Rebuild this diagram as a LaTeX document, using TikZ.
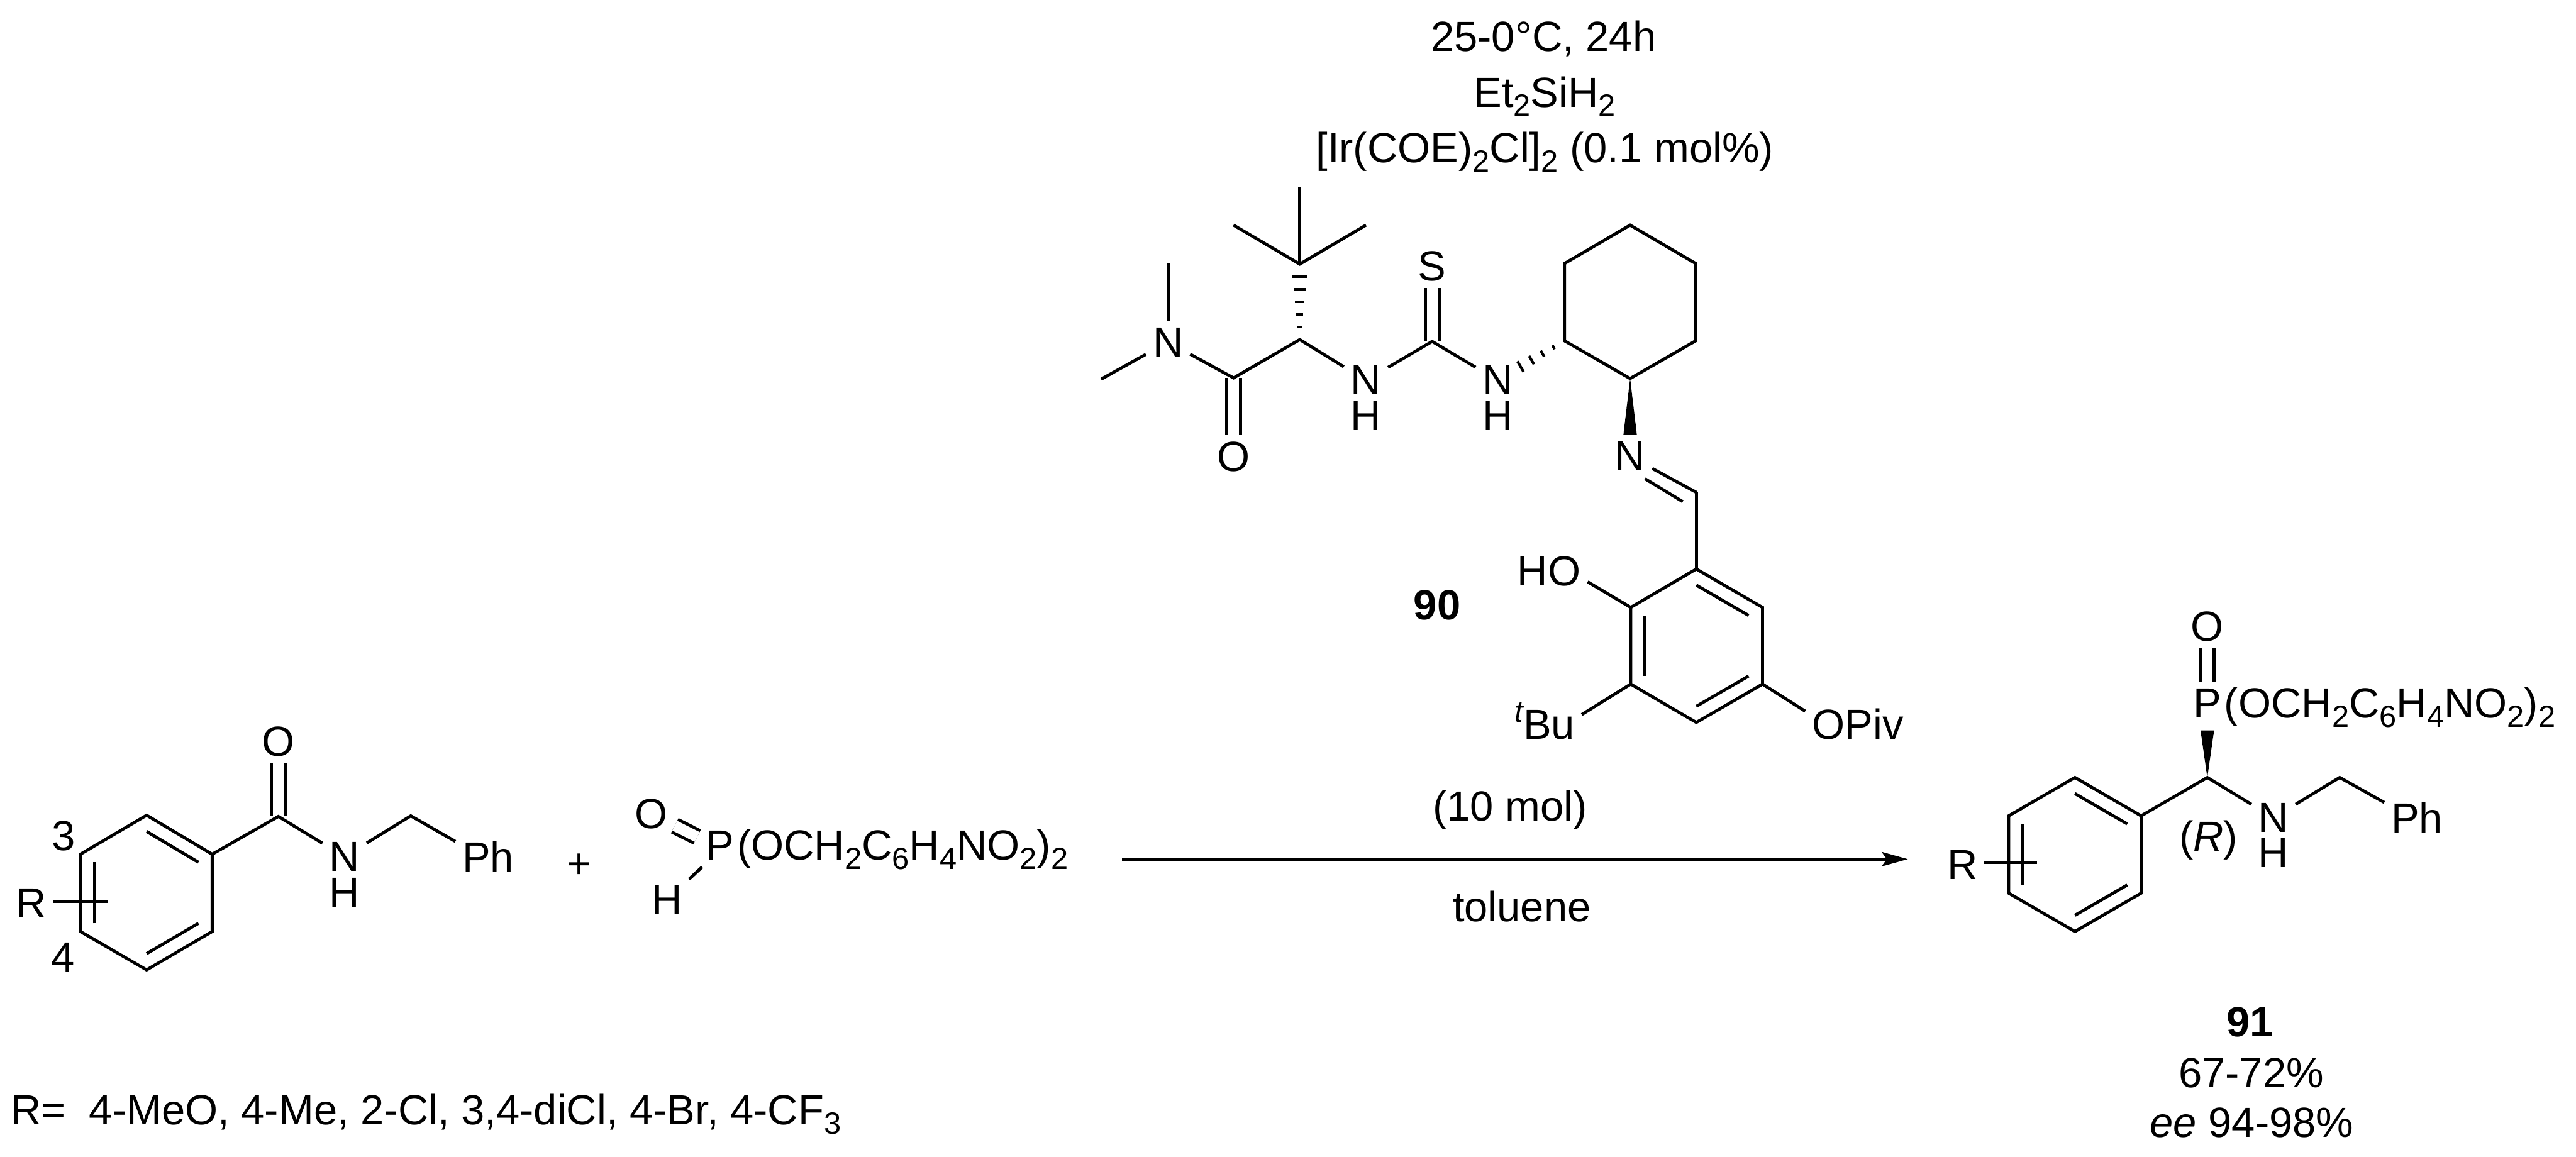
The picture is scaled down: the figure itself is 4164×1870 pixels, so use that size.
\documentclass[tikz,border=0pt]{standalone}
\usepackage{fontspec}
\setmainfont{Liberation Sans}
\usetikzlibrary{arrows.meta, calc}
\newcommand{\chs}[1]{\raisebox{-.15cm}{\fontsize{14.1}{14}\selectfont #1}}
\newcommand{\ringbond}[3]{\draw ($(#1)!.21!(#3)$) -- ($(#2)!.21!(#3)$);}
\newcommand{\wedgebond}[2]{\fill (#1) -- ($(#2)!3.1pt!90:(#1)$) -- ($(#2)!3.1pt!-90:(#1)$) -- cycle;}
\newcommand{\hashline}[4]{\draw[line width=1.2pt] ($(#1)!#3!(#2)!#4pt!90:(#2)$) -- ($(#1)!#3!(#2)!#4pt!-90:(#2)$);}

\begin{document}
\begin{tikzpicture}[x=0.01cm, y=-0.01cm, line width=1.4pt,
    every node/.style={font=\fontsize{19.36}{23}\selectfont},
    atom/.style={inner sep=2.5pt},
    txt/.style={inner sep=0pt, anchor=base},
    dbl/.style={double, double distance=5pt}]
  \useasboundingbox (0,0) rectangle (4164,1870);

  % conditions
  \node[txt] (condA) at (2495,83) {25-0°C, 24h};
  \node[txt] (condB) at (2497,173) {Et\chs{2}SiH\chs{2}};
  \node[txt] (condC) at (2497,263) {[Ir(COE)\chs{2}Cl]\chs{2} (0.1 mol\%)};

  % catalyst 90
  \coordinate (tbuT) at (2101,302);
  \coordinate (tbuL) at (1994,364);
  \coordinate (tbuR) at (2208,364);
  \coordinate (tbuC) at (2101,427);
  \coordinate (cStar) at (2101,549);
  \coordinate (cAmide) at (1994,611);
  \coordinate (cThio) at (2315,552);
  \coordinate (meA) at (1888,425);
  \coordinate (meB) at (1780,613);
  \node[atom] (oAmide) at (1994,738) {O};
  \node[atom] (nAmide) at (1888,553) {N};
  \node[atom] (nA) at (2208,615) {N};
  \node[atom] (hA) at (2208,672) {H};
  \node[atom] (sThio) at (2315,430) {S};
  \node[atom] (nB) at (2421,615) {N};
  \node[atom] (hB) at (2421,672) {H};
  \draw[dbl] (cAmide) -- (oAmide);
  \draw[dbl] (cThio) -- (sThio);
  \draw (tbuT) -- (tbuC);
  \draw (tbuL) -- (tbuC) -- (tbuR);
  \hashline{cStar}{tbuC}{.167}{1.05}
  \hashline{cStar}{tbuC}{.333}{1.6}
  \hashline{cStar}{tbuC}{.5}{2.15}
  \hashline{cStar}{tbuC}{.667}{2.7}
  \hashline{cStar}{tbuC}{.833}{3.25}
  \draw (meA) -- (nAmide);
  \draw (meB) -- (nAmide);
  \draw (nAmide) -- (cAmide) -- (cStar) -- (nA);
  \draw (nA) -- (cThio) -- (nB);

  \coordinate (cyA) at (2635,364);
  \coordinate (cyB) at (2741,426);
  \coordinate (cyC) at (2741,551);
  \coordinate (cyD) at (2635,612);
  \coordinate (cyE) at (2529,551);
  \coordinate (cyF) at (2529,426);
  \draw (cyA) -- (cyB) -- (cyC) -- (cyD) -- (cyE) -- (cyF) -- cycle;
  \coordinate (hashEnd) at (2440,603);
  \hashline{cyE}{hashEnd}{.2}{1}
  \hashline{cyE}{hashEnd}{.4}{1.6}
  \hashline{cyE}{hashEnd}{.6}{2.2}
  \hashline{cyE}{hashEnd}{.8}{2.8}
  \node[atom] (nImine) at (2635,738) {N};
  \wedgebond{cyD}{nImine.north}

  \coordinate (cImine) at (2742,796);
  \coordinate (inA) at (2659,774);
  \coordinate (inB) at (2720,811);
  \draw (nImine) -- (cImine);
  \draw (inA) -- (inB);
  \coordinate (arA) at (2742,920);
  \coordinate (arB) at (2849,982);
  \coordinate (arC) at (2849,1106);
  \coordinate (arD) at (2742,1168);
  \coordinate (arE) at (2636,1106);
  \coordinate (arF) at (2636,982);
  \coordinate (arM) at (2742,1044);
  \draw (cImine) -- (arA);
  \draw (arA) -- (arB) -- (arC) -- (arD) -- (arE) -- (arF) -- cycle;
  \ringbond{arA}{arB}{arM}
  \ringbond{arC}{arD}{arM}
  \ringbond{arE}{arF}{arM}
  \node[atom] (hoA) at (2504,924) {HO};
  \node[atom, anchor=base] (tbuA) at (2497,1195) {\raisebox{.27cm}{\fontsize{14.1}{14}\selectfont\itshape t}Bu};
  \node[atom] (opiv) at (3003,1171) {OPiv};
  \draw (arF) -- (hoA.-15);
  \draw (arE) -- (tbuA.10);
  \draw (arC) -- (opiv.166);
  \node[txt, font=\fontsize{19.36}{23}\selectfont\bfseries] (labelA) at (2323,1002) {90};

  % benzamide
  \coordinate (baA) at (237,1318);
  \coordinate (baB) at (343,1381);
  \coordinate (baC) at (343,1506);
  \coordinate (baD) at (237,1568);
  \coordinate (baE) at (130,1506);
  \coordinate (baF) at (130,1381);
  \coordinate (baM) at (237,1443);
  \draw (baA) -- (baB) -- (baC) -- (baD) -- (baE) -- (baF) -- cycle;
  \ringbond{baA}{baB}{baM}
  \ringbond{baC}{baD}{baM}
  \ringbond{baE}{baF}{baM}
  \node[atom] (rA) at (51,1460) {R};
  \coordinate (rAend) at (175,1457);
  \draw (rA.east |- rAend) -- (rAend);
  \node[atom] (numA) at (103,1352) {3};
  \node[atom] (numB) at (102,1548) {4};
  \coordinate (coA) at (450,1320);
  \coordinate (chA) at (664,1319);
  \node[atom] (oA) at (450,1199) {O};
  \node[atom] (nC) at (557,1385) {N};
  \node[atom] (hC) at (557,1443) {H};
  \node[atom] (phA) at (789,1385) {Ph};
  \draw[dbl] (coA) -- (oA);
  \draw (baB) -- (coA) -- (nC);
  \draw (nC) -- (chA) -- (phA.155);
  \node[atom] (plus) at (936,1400) {+};

  % phosphite
  \node[atom] (pA) at (1164,1367) {P};
  \node[txt, anchor=base west] (estA) at ([xshift=-2.5pt]pA.base east) {(OCH\chs{2}C\chs{6}H\chs{4}NO\chs{2})\chs{2}};
  \node[atom] (oB) at (1053,1316) {O};
  \node[atom] (hD) at (1078,1455) {H};
  \draw[dbl, shorten >=1pt] (oB) -- (pA.160);
  \draw (hD) -- (pA.230);

  % arrow
  \coordinate (arrowS) at (1814,1389);
  \coordinate (arrowE) at (3084,1389);
  \draw[-{Stealth[length=.42cm, width=.23cm, inset=.08cm]}] (arrowS) -- (arrowE);
  \node[txt] (catA) at (2441,1327) {(10 mol)};
  \node[txt] (solvA) at (2460,1490) {toluene};

  % product 91
  \coordinate (prA) at (3354,1257);
  \coordinate (prB) at (3461,1319);
  \coordinate (prC) at (3461,1444);
  \coordinate (prD) at (3354,1506);
  \coordinate (prE) at (3247,1444);
  \coordinate (prF) at (3247,1319);
  \coordinate (prM) at (3354,1381);
  \draw (prA) -- (prB) -- (prC) -- (prD) -- (prE) -- (prF) -- cycle;
  \ringbond{prA}{prB}{prM}
  \ringbond{prC}{prD}{prM}
  \ringbond{prE}{prF}{prM}
  \node[atom] (rB) at (3172,1398) {R};
  \coordinate (rBend) at (3293,1394);
  \draw (rB.east |- rBend) -- (rBend);
  \coordinate (cProd) at (3568,1257);
  \coordinate (chB) at (3782,1257);
  \node[atom] (pB) at (3568,1137) {P};
  \node[txt, anchor=base west] (estB) at ([xshift=-2.5pt]pB.base east) {(OCH\chs{2}C\chs{6}H\chs{4}NO\chs{2})\chs{2}};
  \node[atom] (oC) at (3568,1013) {O};
  \node[atom] (nD) at (3675,1322) {N};
  \node[atom] (hE) at (3675,1379) {H};
  \node[atom] (phB) at (3907,1322) {Ph};
  \node[atom] (confA) at (3570,1358) {(\textit{R})};
  \draw[dbl] (pB) -- (oC);
  \coordinate (wedgeEnd) at (3568,1181);
  \wedgebond{cProd}{wedgeEnd}
  \draw (prB) -- (cProd) -- (nD);
  \draw (nD) -- (chB) -- (phB.155);

  % labels
  \node[txt, anchor=base west] (listA) at (15,1818) {R=\ \ 4-MeO, 4-Me, 2-Cl, 3,4-diCl, 4-Br, 4-CF\chs{3}};
  \node[txt, font=\fontsize{19.36}{23}\selectfont\bfseries] (labelB) at (3637,1676) {91};
  \node[txt] (yieldA) at (3639,1758) {67-72\%};
  \node[txt] (eeA) at (3640,1838) {\textit{ee} 94-98\%};
\end{tikzpicture}
\end{document}
